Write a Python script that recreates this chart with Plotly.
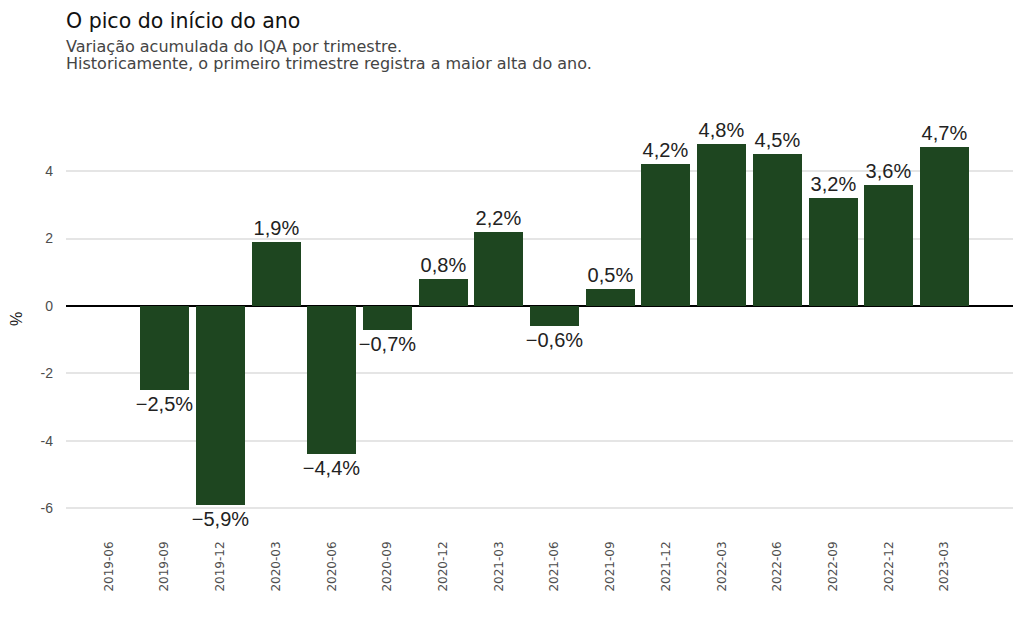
import plotly.graph_objects as go

categories = ["2019-06", "2019-09", "2019-12", "2020-03", "2020-06", "2020-09",
              "2020-12", "2021-03", "2021-06", "2021-09", "2021-12", "2022-03",
              "2022-06", "2022-09", "2022-12", "2023-03"]
values = [None, -2.5, -5.9, 1.9, -4.4, -0.7, 0.8, 2.2, -0.6, 0.5, 4.2, 4.8, 4.5, 3.2, 3.6, 4.7]
labels = ["" if v is None else f"{v:.1f}%".replace(".", ",").replace("-", "\u2212") for v in values]

title_text = "O pico do início do ano"
subtitle_lines = ["Variação acumulada do IQA por trimestre.",
                  "Historicamente, o primeiro trimestre registra a maior alta do ano."]
y_ticks = [-6, -4, -2, 0, 2, 4]

bar_color = "#1e4620"
title_font = "DejaVu Sans, sans-serif"
body_font = "Liberation Sans, Arial, sans-serif"

xs = list(range(len(categories)))

fig = go.Figure()
fig.add_trace(go.Bar(
    x=xs, y=values, width=0.88,
    marker=dict(color=bar_color, line=dict(width=0)),
    text=labels, textposition="outside", constraintext="none",
    textfont=dict(family=body_font, size=20, color="#222222"),
    cliponaxis=False,
))

fig.update_layout(
    width=1016, height=624,
    margin=dict(l=58, r=11, t=102, b=104),
    paper_bgcolor="white", plot_bgcolor="white",
    showlegend=False,
    bargap=0,
    xaxis=dict(
        tickmode="array", tickvals=xs, ticktext=categories,
        range=[-0.77, 16.23], tickangle=-90, automargin=False,
        showgrid=False, zeroline=False, showline=False, ticks="",
        tickfont=dict(family=title_font, size=12, color="#4d4d4d"),
        ticklabelstandoff=10,
    ),
    yaxis=dict(
        range=[-6.58, 5.81], automargin=False,
        tickvals=y_ticks, ticktext=[str(t) for t in y_ticks],
        showgrid=True, gridcolor="#e5e5e5", gridwidth=1.5,
        zeroline=True, zerolinecolor="#000000", zerolinewidth=2,
        showline=False, ticks="",
        tickfont=dict(family=body_font, size=14, color="#4d4d4d"),
        ticklabelstandoff=12,
        title=dict(text="%", font=dict(family=body_font, size=16, color="#222222"), standoff=20),
    ),
)

fig.add_annotation(text=title_text, xref="paper", yref="paper", x=0, y=1,
                   xanchor="left", yanchor="middle", yshift=89, xshift=-2, showarrow=False,
                   font=dict(family=title_font, size=20.5, color="#111111"))
for line, shift in zip(subtitle_lines, [64, 47]):
    fig.add_annotation(text=line, xref="paper", yref="paper", x=0, y=1,
                       xanchor="left", yanchor="middle", yshift=shift, xshift=-2, showarrow=False,
                       font=dict(family=title_font, size=16, color="#444444"))

fig.write_html("out.html")
